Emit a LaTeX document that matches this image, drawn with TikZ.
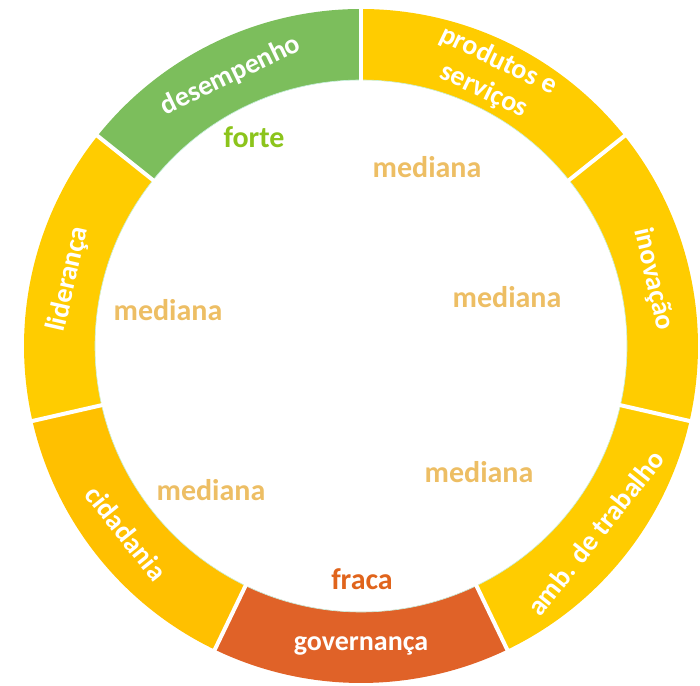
\documentclass[tikz,border=0pt]{standalone}
\usepackage{fontspec}
\setmainfont{Carlito}
\definecolor{segyellow}{HTML}{FFCC00}
\definecolor{segyellowb}{HTML}{FFC000}
\definecolor{seggreen}{HTML}{7CBE5C}
\definecolor{segorange}{HTML}{E06228}
\definecolor{txtmed}{HTML}{EDBE64}
\definecolor{txtforte}{HTML}{8CC41C}
\definecolor{txtfraca}{HTML}{E0641C}
\definecolor{mint}{HTML}{C8F0E0}
\newcommand\ringseg[3]{\fill[#3] ([shift={(O)}]#1:337) arc[start angle=#1,end angle=#2,radius=337] -- ([shift={(O)}]#2:266) arc[start angle=#2,end angle=#1,radius=266] -- cycle;}
\begin{document}
\begin{tikzpicture}[x=1pt,y=1pt,
  seglab/.style={text=white,font=\fontsize{28}{33}\selectfont\bfseries,align=center,inner sep=0pt},
  score/.style={font=\fontsize{30}{32}\selectfont\bfseries,inner sep=0pt}]
\useasboundingbox (0,0) rectangle (700,685);
\coordinate (O) at (361,339);
\ringseg{90}{38.571}{segyellow}
\ringseg{38.571}{-12.857}{segyellow}
\ringseg{-12.857}{-64.286}{segyellow}
\ringseg{-64.286}{-115.714}{segorange}
\ringseg{-115.714}{-167.143}{segyellowb}
\ringseg{192.857}{141.429}{segyellow}
\ringseg{141.429}{90}{seggreen}
\draw[mint,line width=0.6] (O) circle[radius=266];
\foreach \a in {90,38.571,-12.857,-64.286,-115.714,-167.143,141.429}
  \draw[white,line width=4] ([shift={(O)}]\a:262) -- ([shift={(O)}]\a:342);
% segment labels
\node[seglab,rotate=-25.714] (lprod) at ([shift={(O)}]64.286:300) {produtos e\\serviços};
\node[seglab,rotate=-77.143] (linov) at ([shift={(O)}]12.857:300) {inovação};
\node[seglab,rotate=51.429] (lamb) at ([shift={(O)}]-38.571:300) {amb. de trabalho};
\node[seglab,rotate=0] (lgov) at ([shift={(O)}]-90:300) {governança};
\node[seglab,rotate=-51.429] (lcid) at ([shift={(O)}]-141.429:300) {cidadania};
\node[seglab,rotate=77.143] (llid) at ([shift={(O)}]167.143:300) {liderança};
\node[seglab,rotate=25.714] (ldes) at ([shift={(O)}]115.714:300) {desempenho};
% scores
\node[score,text=txtforte] (sdes) at (254,548) {forte};
\node[score,text=txtmed] (sprod) at (427,518) {mediana};
\node[score,text=txtmed] (sinov) at (507,388) {mediana};
\node[score,text=txtmed] (slid) at (168,375) {mediana};
\node[score,text=txtmed] (scid) at (211,195) {mediana};
\node[score,text=txtmed] (samb) at (479,213) {mediana};
\node[score,text=txtfraca] (sgov) at (362,106) {fraca};
\end{tikzpicture}
\end{document}
